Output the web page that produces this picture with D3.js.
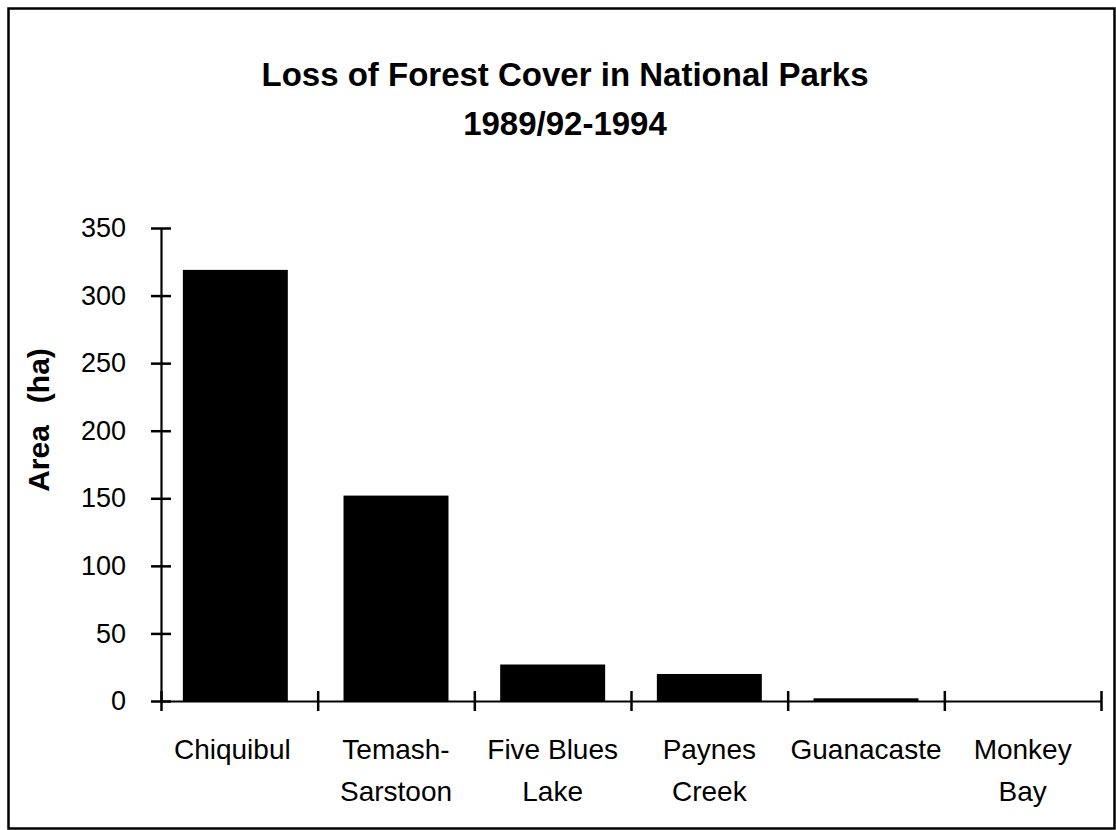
<!DOCTYPE html>
<html>
<head>
<meta charset="utf-8">
<script src="https://cdn.jsdelivr.net/npm/d3@7"></script>
<style>
  html, body { margin: 0; padding: 0; background: #fff; }
  svg text { font-family: "Liberation Sans", Arial, Helvetica, sans-serif; fill: #000; }
</style>
</head>
<body>
<div id="chartContainer"></div>
<script>
// forest cover loss bar chart
const categories = [
    ["Chiquibul"],
    ["Temash-", "Sarstoon"],
    ["Five Blues", "Lake"],
    ["Paynes", "Creek"],
    ["Guanacaste"],
    ["Monkey", "Bay"]
];
const lossValues = [319, 152, 27, 20, 2, 0];
const yTicks = [0, 50, 100, 150, 200, 250, 300, 350];
const titleLines = ["Loss of Forest Cover in National Parks", "1989/92-1994"];

function createChart() {
    const width = 1116, height = 830;
    const left = 161, right = 1101, top = 228, bottom = 701;

    const svg = d3.select("#chartContainer").append("svg")
        .attr("width", width)
        .attr("height", height);

    // frame
    svg.append("rect")
        .attr("x", 8.5).attr("y", 8.5)
        .attr("width", 1106).attr("height", 820)
        .attr("fill", "none")
        .attr("stroke", "#000")
        .attr("stroke-width", 2.5);

    // title
    svg.append("g").selectAll("text")
        .data(titleLines)
        .enter().append("text")
        .attr("x", 565)
        .attr("y", (d, i) => 86 + i * 49)
        .attr("text-anchor", "middle")
        .style("font-size", "33px")
        .style("font-weight", "bold")
        .text(d => d);

    const keys = categories.map(c => c.join(" "));
    const x = d3.scaleBand()
        .domain(keys)
        .range([left, right])
        .paddingInner(0.33)
        .paddingOuter(0.165);
    const xEdge = d3.scaleLinear().domain([0, keys.length]).range([left, right]);
    const y = d3.scaleLinear().domain([0, 350]).range([bottom, top]);

    // bars
    svg.append("g").selectAll("rect")
        .data(lossValues)
        .enter().append("rect")
        .attr("x", (d, i) => x(keys[i]) - (i === 0 ? 4 : 0))
        .attr("y", d => y(d))
        .attr("width", x.bandwidth())
        .attr("height", d => bottom - y(d))
        .attr("fill", "#000");

    // y axis, ticks cross the line
    const yAxis = svg.append("g")
        .attr("transform", `translate(${left},0)`)
        .call(d3.axisLeft(y).tickValues(yTicks).tickSize(0).tickPadding(35));
    yAxis.select(".domain").attr("stroke-width", 2.2);
    yAxis.selectAll(".tick line").attr("x1", -10).attr("x2", 10).attr("stroke-width", 2.5);
    yAxis.selectAll(".tick text")
        .style("font-size", "27px")
        .attr("dy", "0.32em");

    // x axis, ticks at category boundaries
    const xAxis = svg.append("g")
        .attr("transform", `translate(0,${bottom})`)
        .call(d3.axisBottom(xEdge).tickValues(d3.range(keys.length + 1)).tickSize(0).tickFormat(""));
    xAxis.select(".domain").attr("stroke-width", 2.2);
    xAxis.selectAll(".tick line").attr("y1", -10).attr("y2", 10).attr("stroke-width", 2.5);

    // category labels
    const labels = svg.append("g").selectAll("text")
        .data(categories)
        .enter().append("text")
        .attr("text-anchor", "middle")
        .style("font-size", "28px");
    labels.selectAll("tspan")
        .data((d, i) => d.map(line => ({ line, i })))
        .enter().append("tspan")
        .attr("x", d => x(keys[d.i]) + x.bandwidth() / 2 - (d.i === 0 ? 7 : 0))
        .attr("y", (d, j) => bottom + 58 + j * 42)
        .text(d => d.line);

    // y label
    const yLabel = svg.append("text")
        .attr("transform", "translate(49,420) rotate(-90)")
        .attr("text-anchor", "middle")
        .style("font-size", "30px")
        .style("font-weight", "bold");
    yLabel.append("tspan").text("Area");
    yLabel.append("tspan").attr("dx", 22).text("(ha)");
}

createChart();
</script>
</body>
</html>
